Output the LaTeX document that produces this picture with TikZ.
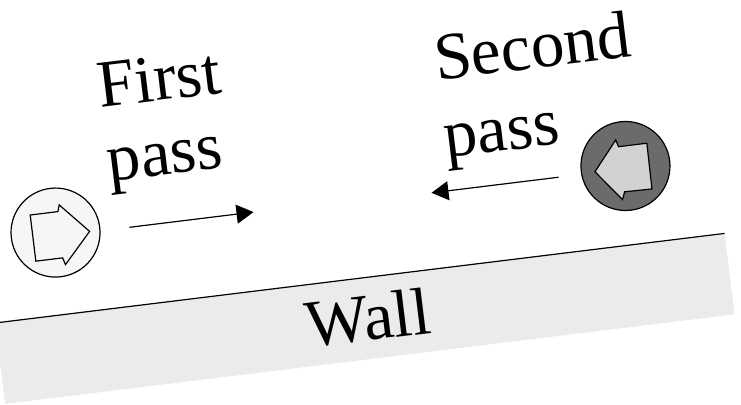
\documentclass[tikz,border=0pt]{standalone}
\usepackage{fontspec}
\newfontfamily\passfont{Liberation Serif}
\usetikzlibrary{arrows.meta}

\definecolor{wallgray}{HTML}{EBEBEB}
\definecolor{botlight}{HTML}{F6F6F6}
\definecolor{botdark}{HTML}{6B6B6B}
\definecolor{arrowgray}{HTML}{D2D2D2}

\begin{document}
\begin{tikzpicture}[x = 1pt, y = 1pt,
	label text/.style = {font = \passfont\fontsize{67}{76}\selectfont, inner sep = 0pt},
	bot/.style = {circle, draw, line width = 1.2pt, minimum size = 89pt, inner sep = 0pt},
	heading/.style = {line width = 1.2pt, line join = miter}]
	\useasboundingbox (0,0) rectangle (741,404);
	\clip (0,0) rectangle (741,404);

	\begin{scope}[rotate = 7, transform shape]
		% the wall
		\fill [wallgray] (5,-0.5) rectangle (740,81);
		\draw [line width = 1.2pt] (5,81) -- (740,81);
		\node [label text, anchor = base] (wall) at (375.5,18) {Wall};

		% first pass, heading right
		\node [bot, fill = botlight] (bot1) at (76,163.4) {};
		\begin{scope}[shift = {(76,163.4)}]
			\draw [heading, fill = botlight] (-23,20.5) -- (5,20.5) -- (7,27) -- (34,-3)
				-- (6,-33) -- (4,-26) -- (-23,-26) -- cycle;
		\end{scope}
		\coordinate (go1) at (150,159.6);
		\coordinate (stop1) at (275,159.6);
		\draw [line width = 1.2pt, -{Triangle[length = 17pt, width = 19pt]}] (go1) -- (stop1);
		% base anchor sits on the last line
		\node [label text, align = left, anchor = base west] (pass1) at (136,207.7) {First\\[-2pt]pass};

		% second pass, heading left
		\node [bot, fill = botdark] (bot2) at (649.8,160) {};
		\begin{scope}[shift = {(649.8,160)}]
			\draw [heading, fill = arrowgray] (24,20) -- (-4.5,20) -- (-6.5,27) -- (-31,-2)
				-- (-7,-33) -- (-4,-25.5) -- (23.5,-26) -- cycle;
		\end{scope}
		\coordinate (go2) at (582,157);
		\coordinate (stop2) at (454,157);
		\draw [line width = 1.2pt, -{Triangle[length = 17pt, width = 19pt]}] (go2) -- (stop2);
		\node [label text, align = left, anchor = base west] (pass2) at (473,190) {Second\\[2pt]pass};
	\end{scope}
\end{tikzpicture}
\end{document}
